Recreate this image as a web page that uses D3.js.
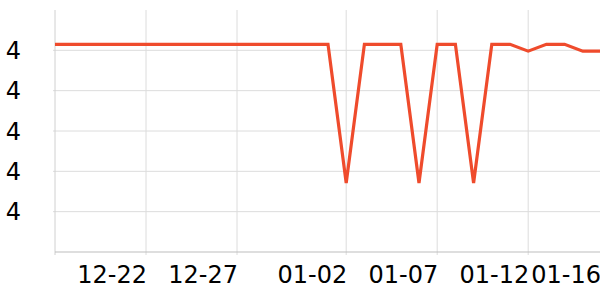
<!DOCTYPE html>
<html>
<head>
<meta charset="utf-8">
<script src="https://cdn.jsdelivr.net/npm/d3@7"></script>
<style>
  body{margin:0;background:#fff;}
  svg{display:block;font-family:"DejaVu Sans",sans-serif;}
</style>
</head>
<body>
<svg id="chart" width="600" height="300"></svg>
<script>
/* data: one point per day */
const dates = ["2023-12-17","2023-12-18","2023-12-19","2023-12-20","2023-12-21","2023-12-22",
  "2023-12-23","2023-12-24","2023-12-25","2023-12-26","2023-12-27","2023-12-28","2023-12-29",
  "2023-12-30","2023-12-31","2024-01-01","2024-01-02","2024-01-03","2024-01-04","2024-01-05",
  "2024-01-06","2024-01-07","2024-01-08","2024-01-09","2024-01-10","2024-01-11","2024-01-12",
  "2024-01-13","2024-01-14","2024-01-15","2024-01-16"];
const values = [4.515,4.515,4.515,4.515,4.515,4.515,4.515,4.515,4.515,4.515,4.515,4.515,4.515,
  4.515,4.515,4.515,4.171,4.515,4.515,4.515,4.171,4.515,4.515,4.171,4.515,4.515,4.498,
  4.515,4.515,4.498,4.498];
const xTicks      = ["2023-12-17","2023-12-22","2023-12-27","2024-01-02","2024-01-07","2024-01-12","2024-01-16"];
const xTickLabels = ["","12-22","12-27","01-02","01-07","01-12","01-16"];
const yTicks      = [4.1,4.2,4.3,4.4,4.5];
const yTickLabels = ["4","4","4","4","4"];

const parse = d3.utcParse("%Y-%m-%d");
const rows = dates.map((d,i)=>({date:parse(d), v:values[i]}));

const L=55, R=601, T=10, B=252;
const svg = d3.select("#chart");

const x = d3.scaleUtc().domain([parse(dates[0]), parse(dates[dates.length-1])]).range([L,R]);
const y = d3.scaleLinear().domain([4.0,4.6]).range([B,T]);

/* grid */
svg.append("g").selectAll("line.h").data(yTicks).enter().append("line")
  .attr("x1",L-2).attr("x2",R).attr("y1",d=>y(d)).attr("y2",d=>y(d))
  .attr("stroke","#dcdcdc").attr("stroke-width",1);
svg.append("g").selectAll("line.v").data(xTicks).enter().append("line")
  .attr("x1",d=>x(parse(d))).attr("x2",d=>x(parse(d)))
  .attr("y1",T).attr("y2",B+3)
  .attr("stroke",(d,i)=>i===0?"#d0d0d0":"#dcdcdc").attr("stroke-width",1);

/* x axis line */
svg.append("line").attr("x1",L).attr("x2",R).attr("y1",B).attr("y2",B)
  .attr("stroke","#bdbdbd").attr("stroke-width",1.2);

/* y labels */
svg.append("g").selectAll("text").data(yTicks).enter().append("text")
  .attr("x",21).attr("y",d=>y(d)).attr("dy","0.36em")
  .attr("text-anchor","end").style("font-size","24px").attr("fill","#000")
  .text((d,i)=>yTickLabels[i]);

/* x labels, end-anchored at the tick */
svg.append("g").selectAll("text").data(xTicks).enter().append("text")
  .attr("x",d=>Math.min(x(parse(d))+1,601)).attr("y",283)
  .attr("text-anchor","end").style("font-size","24px").attr("fill","#000")
  .text((d,i)=>xTickLabels[i]);

/* line */
const line = d3.line().x(d=>x(d.date)).y(d=>y(d.v));
svg.append("path").datum(rows)
  .attr("d",line).attr("fill","none")
  .attr("stroke","#ef4b2c").attr("stroke-width",3.2).attr("stroke-linejoin","miter");
</script>
</body>
</html>
